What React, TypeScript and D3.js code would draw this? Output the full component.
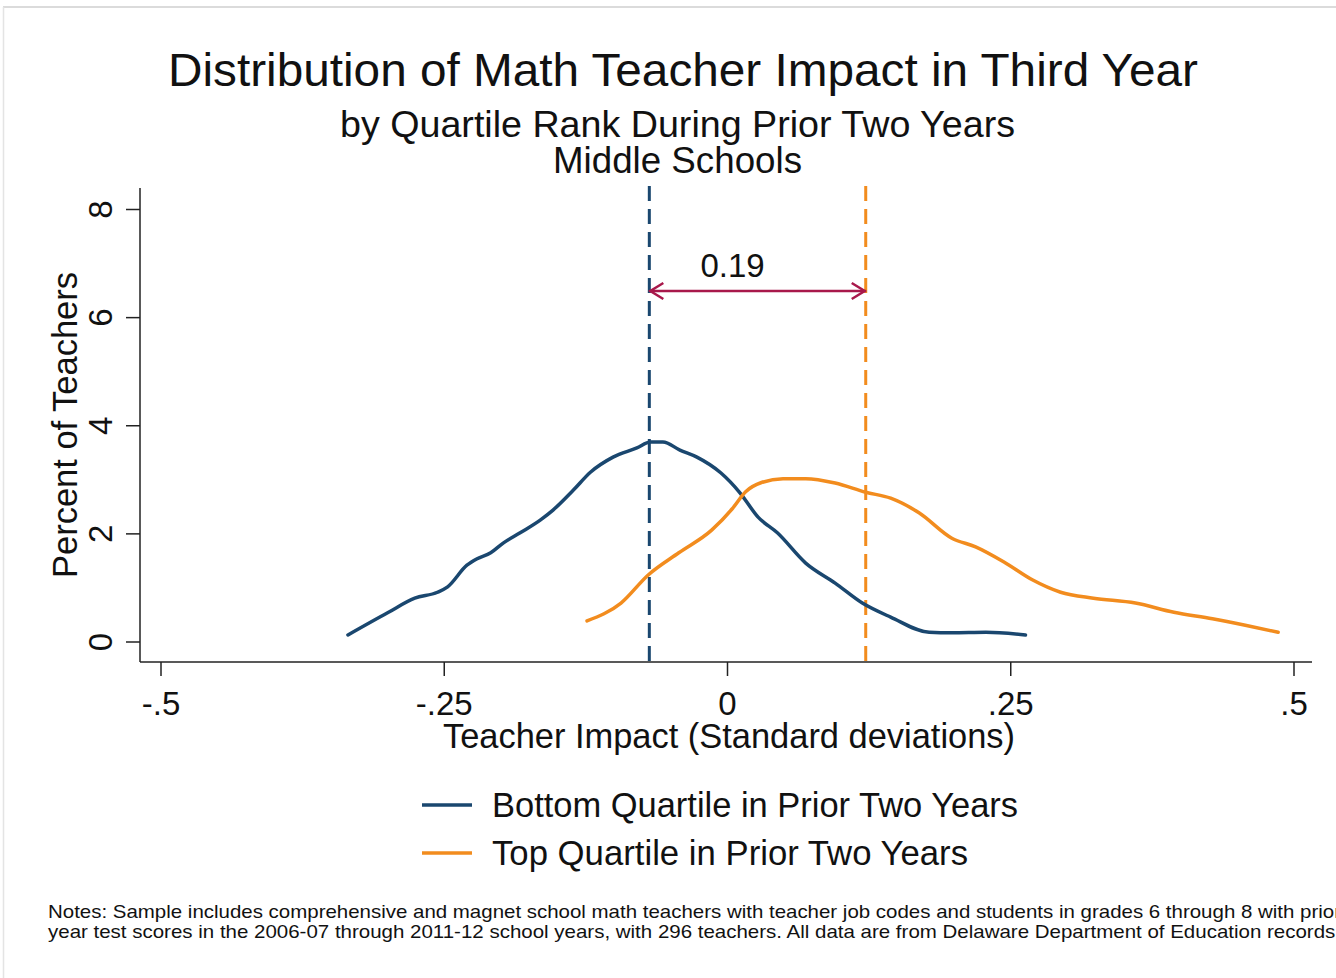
import React from "react";
import * as d3 from "d3";

const titleLines = [
  "Distribution of Math Teacher Impact in Third Year",
  "by Quartile Rank During Prior Two Years",
  "Middle Schools",
];
const xTicks = [-0.5, -0.25, 0, 0.25, 0.5];
const xTickLabels = ["-.5", "-.25", "0", ".25", ".5"];
const yTicks = [0, 2, 4, 6, 8];
const seriesNames = ["Bottom Quartile in Prior Two Years", "Top Quartile in Prior Two Years"];
const seriesColors = ["#1a476f", "#f28c1e"];
const bottomX = [-0.335, -0.3, -0.276, -0.256, -0.247, -0.23, -0.221, -0.209, -0.198, -0.183, -0.165, -0.154, -0.136, -0.121, -0.101, -0.08, -0.068, -0.057, -0.042, -0.027, -0.006, 0.011, 0.027, 0.044, 0.069, 0.095, 0.119, 0.144, 0.178, 0.198, 0.228, 0.263];
const bottomY = [0.13, 0.54, 0.81, 0.92, 1.02, 1.42, 1.54, 1.65, 1.83, 2.02, 2.26, 2.44, 2.81, 3.14, 3.42, 3.59, 3.7, 3.7, 3.55, 3.42, 3.13, 2.76, 2.31, 2.02, 1.46, 1.09, 0.72, 0.46, 0.18, 0.17, 0.18, 0.13];
const topX = [-0.124, -0.094, -0.07, -0.043, -0.014, 0.004, 0.016, 0.03, 0.049, 0.069, 0.095, 0.122, 0.144, 0.169, 0.198, 0.219, 0.244, 0.269, 0.294, 0.323, 0.36, 0.394, 0.428, 0.457, 0.486];
const topY = [0.39, 0.72, 1.24, 1.65, 2.07, 2.46, 2.78, 2.95, 3.02, 3.02, 2.94, 2.77, 2.66, 2.39, 1.92, 1.76, 1.48, 1.15, 0.92, 0.81, 0.72, 0.55, 0.43, 0.31, 0.18];
const meanLines = [-0.069, 0.122];
const diffLabel = "0.19";
const notes = [
  "Notes: Sample includes comprehensive and magnet school math teachers with teacher job codes and students in grades 6 through 8 with prior",
  "year test scores in the 2006-07 through 2011-12 school years, with 296 teachers. All data are from Delaware Department of Education records.",
];

const FONT = "'Liberation Sans', Arial, sans-serif";

export default function App() {
  const W = 1336, H = 978;
  const x = d3.scaleLinear().domain([-0.5, 0.5]).range([161, 1294]);
  const y = d3.scaleLinear().domain([0, 8]).range([642, 209.5]);
  const line = d3
    .line<[number, number]>()
    .x((d) => x(d[0]))
    .y((d) => y(d[1]))
    .curve(d3.curveMonotoneX);
  const series = [
    bottomX.map((v, i) => [v, bottomY[i]] as [number, number]),
    topX.map((v, i) => [v, topY[i]] as [number, number]),
  ];
  const axisY = 662;
  const axisX = 140;
  const arrowY = 291;
  const ax1 = x(meanLines[0]);
  const ax2 = x(meanLines[1]);
  const arrowColor = "#a8184b";
  const T = "spacingAndGlyphs";
  return (
    <svg width={W} height={H} style={{ position: "absolute", left: 0, top: 0, background: "#fff" }} fontFamily={FONT}>
      <rect x={0} y={0} width={W} height={H} fill="#fff" />
      <line x1={3} y1={7} x2={W} y2={7} stroke="#cfcfcf" strokeWidth={1.5} />
      <line x1={3.5} y1={7} x2={3.5} y2={H} stroke="#e4e4e4" strokeWidth={1.5} />
      {/* titles */}
      <text x={683} y={86} textAnchor="middle" fontSize={47} fill="#111" textLength={1030} lengthAdjust={T}>{titleLines[0]}</text>
      <text x={677.5} y={137} textAnchor="middle" fontSize={37} fill="#111" textLength={675} lengthAdjust={T}>{titleLines[1]}</text>
      <text x={677.5} y={173} textAnchor="middle" fontSize={37} fill="#111" textLength={249} lengthAdjust={T}>{titleLines[2]}</text>
      {/* axes */}
      <line x1={axisX} y1={188} x2={axisX} y2={axisY} stroke="#222" strokeWidth={1.5} />
      <line x1={axisX} y1={axisY} x2={1312} y2={axisY} stroke="#222" strokeWidth={1.5} />
      {yTicks.map((t) => (
        <g key={"y" + t}>
          <line x1={axisX - 14} x2={axisX} y1={y(t)} y2={y(t)} stroke="#222" strokeWidth={1.5} />
          <text transform={`translate(112,${y(t)}) rotate(-90)`} textAnchor="middle" fontSize={33} fill="#111">{t}</text>
        </g>
      ))}
      {xTicks.map((t, i) => (
        <g key={"x" + t}>
          <line x1={x(t)} x2={x(t)} y1={axisY} y2={axisY + 14} stroke="#222" strokeWidth={1.5} />
          <text x={x(t)} y={715} textAnchor="middle" fontSize={33} fill="#111">{xTickLabels[i]}</text>
        </g>
      ))}
      <text transform={`translate(77,425) rotate(-90)`} textAnchor="middle" fontSize={35} fill="#111" textLength={306} lengthAdjust={T}>Percent of Teachers</text>
      <text x={729} y={748} textAnchor="middle" fontSize={34.5} fill="#111" textLength={572} lengthAdjust={T}>Teacher Impact (Standard deviations)</text>
      {/* mean lines */}
      {meanLines.map((m, i) => (
        <line key={"m" + i} x1={x(m)} x2={x(m)} y1={186} y2={axisY} stroke={seriesColors[i]} strokeWidth={3} strokeDasharray="15 8" />
      ))}
      {/* curves */}
      {series.map((s, i) => (
        <path key={"s" + i} d={line(s) || ""} fill="none" stroke={seriesColors[i]} strokeWidth={3.5} strokeLinejoin="round" strokeLinecap="round" />
      ))}
      {/* arrow */}
      <line x1={ax1} x2={ax2} y1={arrowY} y2={arrowY} stroke={arrowColor} strokeWidth={2.5} />
      <path d={`M${ax1 + 14},${arrowY - 8} L${ax1 + 1},${arrowY} L${ax1 + 14},${arrowY + 8}`} fill="none" stroke={arrowColor} strokeWidth={2.5} />
      <path d={`M${ax2 - 14},${arrowY - 8} L${ax2 - 1},${arrowY} L${ax2 - 14},${arrowY + 8}`} fill="none" stroke={arrowColor} strokeWidth={2.5} />
      <text x={732.5} y={277} textAnchor="middle" fontSize={33} fill="#111">{diffLabel}</text>
      {/* legend */}
      {seriesNames.map((n, i) => (
        <g key={"l" + i}>
          <line x1={422} x2={472} y1={805 + i * 48} y2={805 + i * 48} stroke={seriesColors[i]} strokeWidth={3.5} />
          <text x={492} y={817 + i * 48} fontSize={34.5} fill="#111" textLength={i === 0 ? 526 : 476} lengthAdjust={T}>{n}</text>
        </g>
      ))}
      {/* notes */}
      {notes.map((n, i) => (
        <text key={"n" + i} x={48} y={918 + i * 20} fontSize={19} fill="#111" textLength={1293} lengthAdjust={T}>{n}</text>
      ))}
    </svg>
  );
}
